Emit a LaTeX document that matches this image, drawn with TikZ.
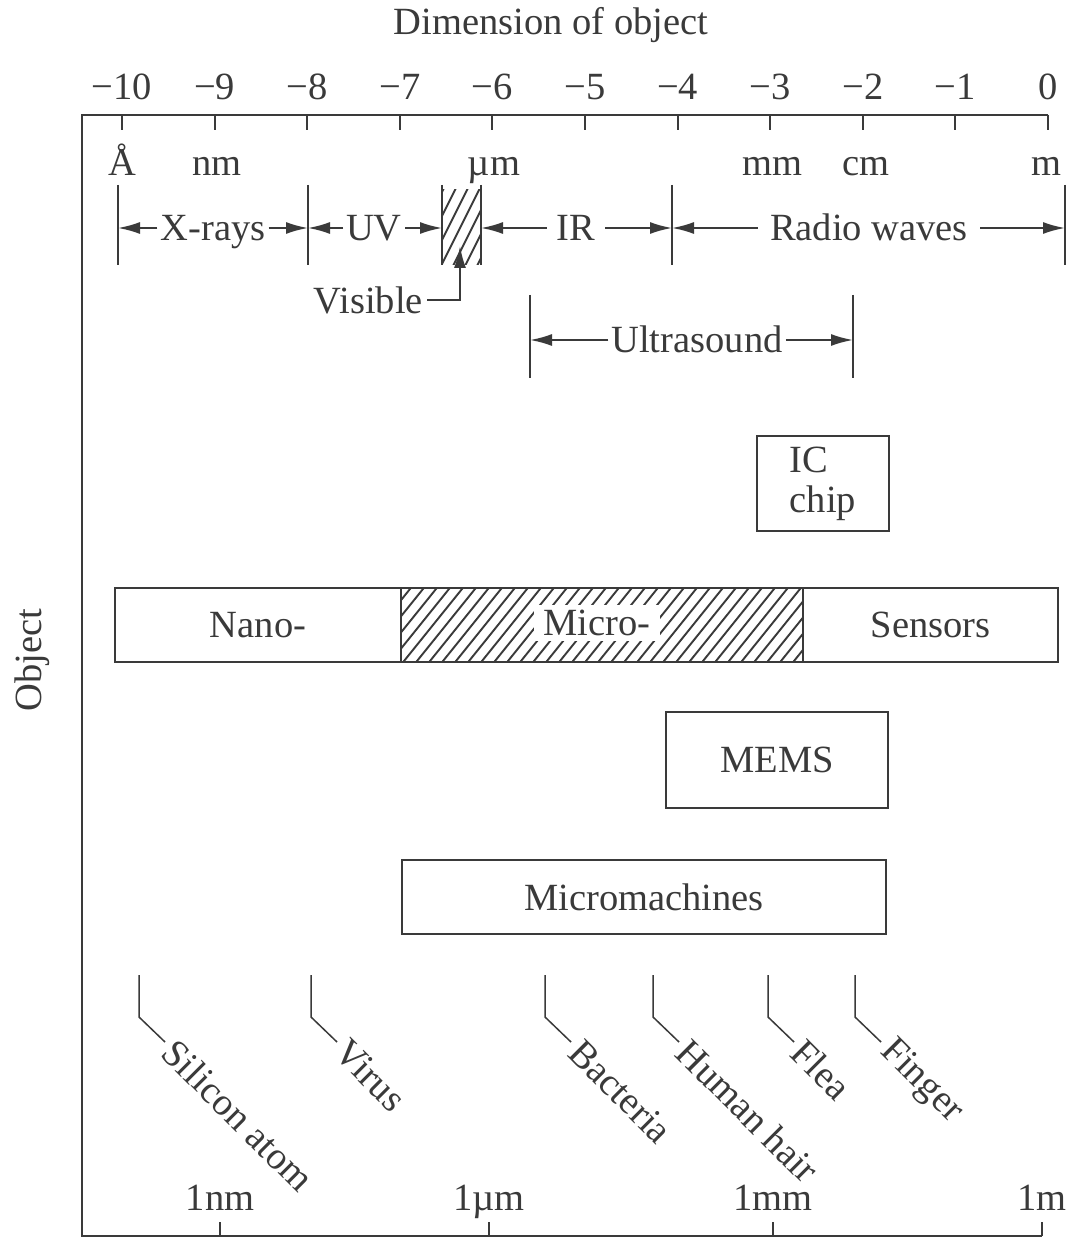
\documentclass[tikz,border=0pt]{standalone}
\usepackage{fontspec}
\setmainfont{Liberation Serif}
\usetikzlibrary{arrows.meta}
\definecolor{ink}{HTML}{3A3A3A}
\begin{document}
\begin{tikzpicture}[x=1pt,y=-1pt,
  txt/.style={text=ink,font=\fontsize{38.5}{40}\selectfont,inner sep=0pt},
  ln/.style={draw=ink,line width=2pt},
  thin/.style={draw=ink,line width=1.5pt},
  hatch/.style={draw=ink,line width=1.9pt},
  arr/.style={ln,-{Latex[length=22pt,width=12pt]}},
  box/.style={ln,txt,align=center}]
\useasboundingbox (0,0) rectangle (1070,1238);
\fill[white] (0,0) rectangle (1070,1238);
% frame
\draw[ln,line join=miter] (1042,1236) -- (82,1236) -- (82,115) -- (1048,115);
\foreach \i in {0,...,10} \draw[ln] (1048-92.6*\i,115) -- ++(0,15);
\foreach \i in {1,...,10} \node[txt,anchor=base] (tk\i) at (1048-92.6*\i,100) {−\i};
\node[txt,anchor=base] (tk0) at (1048,100) {0};
\node[txt,anchor=base] (title) at (551,35) {Dimension of object};
% units
\node[txt,anchor=base] (uA) at (122,176) {Å};
\node[txt,anchor=base] (unm) at (217,176) {nm};
\node[txt,anchor=base] (uum) at (494,176) {µm};
\node[txt,anchor=base] (umm) at (772,176) {mm};
\node[txt,anchor=base] (ucm) at (866,176) {cm};
\node[txt,anchor=base] (um) at (1046,176) {m};
% spectrum bars
\foreach \n/\x in {1/118,2/308,3/442,4/481,5/672,6/1065} {
  \coordinate (st\n) at (\x,185);
  \coordinate (sb\n) at (\x,265);
  \coordinate (sm\n) at (\x,228);
}
\begin{scope}
  \clip (442,190) rectangle (481,265);
  \foreach \x in {392,404,...,490} \draw[hatch] (\x,268) -- ++(40,-80);
\end{scope}
\foreach \n in {1,...,6} \draw[ln] (st\n) -- (sb\n);
\node[txt,anchor=base,inner xsep=3pt] (xr) at (213,241) {X-rays};
\node[txt,anchor=base,inner xsep=3pt] (uv) at (374,241) {UV};
\node[txt,anchor=base,inner xsep=10pt] (ir) at (576,241) {IR};
\node[txt,anchor=base,inner xsep=12pt] (rw) at (869,241) {Radio waves};
\draw[arr] (xr.west |- sm1) -- (sm1);
\draw[arr] (xr.east |- sm2) -- (sm2);
\draw[arr] (uv.west |- sm2) -- (sm2);
\draw[arr] (uv.east |- sm3) -- (sm3);
\draw[arr] (ir.west |- sm4) -- (sm4);
\draw[arr] (ir.east |- sm5) -- (sm5);
\draw[arr] (rw.west |- sm5) -- (sm5);
\draw[arr] (rw.east |- sm6) -- (sm6);
% visible
\node[txt,anchor=base east,inner sep=0pt] (vis) at (423,313) {Visible};
\coordinate (vtip) at (460,246);
\draw[arr] ([xshift=4pt]vis.east) -| (vtip);
% ultrasound
\coordinate (ut1) at (530,295); \coordinate (ub1) at (530,378); \coordinate (um1) at (530,340);
\coordinate (ut2) at (853,295); \coordinate (ub2) at (853,378); \coordinate (um2) at (853,340);
\draw[ln] (ut1) -- (ub1);
\draw[ln] (ut2) -- (ub2);
\node[txt,anchor=base,inner xsep=3pt] (us) at (697,352) {Ultrasound};
\draw[arr] (us.west |- um1) -- (um1);
\draw[arr] (us.east |- um2) -- (um2);
% boxes
\node[box,minimum width=132pt,minimum height=95pt,align=left] (ic) at (823,483.5) {IC\\chip};
\begin{scope}
  \clip (401,588) rectangle (803,662);
  \foreach \x in {335,348,...,810} \draw[hatch] (\x,666) -- ++(66,-82);
\end{scope}
\node[box,minimum width=286pt,minimum height=74pt] (nano) at (258,625) {Nano-};
\node[box,minimum width=402pt,minimum height=74pt] (micro) at (602,625) {};
\node[txt,fill=white,inner xsep=10pt,inner ysep=5pt] (microt) at (597,623) {Micro-};
\node[box,minimum width=255pt,minimum height=74pt] (sens) at (930.5,625) {Sensors};
\node[box,minimum width=222pt,minimum height=96pt] (mems) at (777,760) {MEMS};
\node[box,minimum width=484pt,minimum height=74pt] (mm) at (644,897) {Micromachines};
% object label
\node[txt,rotate=90] (obj) at (32,660) {Object};
% leaders
\foreach \x/\t/\n in {139/Silicon atom/si,311/Virus/vi,545/Bacteria/ba,653/Human hair/hh,768/Flea/fl,855/Finger/fi} {
  \coordinate (ls\n) at (\x,975);
  \node[txt,rotate=-45,anchor=west,inner sep=0pt] (\n) at (\x+30,1046) {\t};
  \draw[thin] (ls\n) -- ++(0,42) -- ++(26,25);
}
% bottom ticks
\foreach \x/\t/\n in {220/1nm/bn,489/1µm/bu,773/1mm/bm,1042/1m/bM} {
  \draw[ln] (\x,1236) -- ++(0,-14);
  \node[txt,anchor=base] (\n) at (\x,1210) {\t};
}
\end{tikzpicture}
\end{document}
